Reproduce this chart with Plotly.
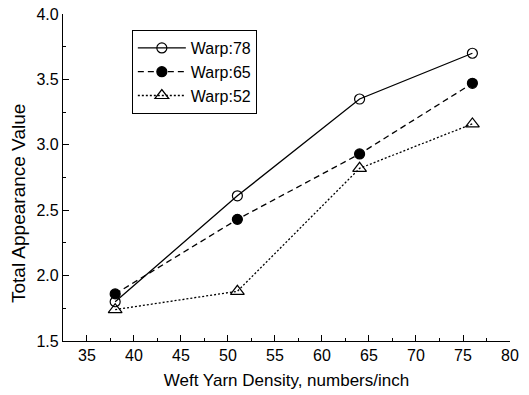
import plotly.graph_objects as go

weft_density = [38, 51, 64, 76]
warp78 = [1.80, 2.61, 3.35, 3.70]
warp65 = [1.86, 2.43, 2.93, 3.47]
warp52 = [1.74, 1.88, 2.82, 3.16]

series = [
    ("Warp:78", warp78, "solid", "circle-open", 10),
    ("Warp:65", warp65, "6px,4px", "circle", 10),
    ("Warp:52", warp52, "2px,2px", "triangle-up-open", 12),
]

fig = go.Figure()
for name, vals, dash, sym, size in series:
    fig.add_trace(go.Scatter(
        x=weft_density, y=vals, name=name, mode="lines+markers",
        line=dict(color="black", width=1.3, dash=dash),
        marker=dict(symbol=sym, size=size, color="black",
                    line=dict(color="black", width=1.2)),
    ))

font = "Liberation Sans, Arial, sans-serif"
fig.update_layout(
    width=529, height=395,
    margin=dict(l=63, r=19, t=14, b=54),
    paper_bgcolor="white", plot_bgcolor="white",
    font=dict(family=font, color="black", size=16),
    showlegend=True,
    legend=dict(x=0.154, y=0.951, xanchor="left", yanchor="top",
                bordercolor="black", borderwidth=1, bgcolor="white",
                font=dict(size=16), tracegroupgap=0, itemwidth=48),
)
fig.update_xaxes(
    range=[32.45, 80], dtick=5, tick0=35, automargin=False,
    showline=True, linecolor="black", linewidth=1.2,
    ticks="inside", ticklen=6, tickcolor="black",
    minor=dict(ticks="inside", ticklen=3, dtick=2.5, tick0=35, tickcolor="black"),
    showgrid=False, zeroline=False,
    tickfont=dict(size=16),
    title=dict(text="Weft Yarn Density, numbers/inch", font=dict(size=17), standoff=10),
)
fig.update_yaxes(
    range=[1.5, 4.0], dtick=0.5, tick0=1.5, tickformat=".1f", automargin=False,
    showline=True, linecolor="black", linewidth=1.2,
    ticks="inside", ticklen=6, tickcolor="black",
    minor=dict(ticks="inside", ticklen=3, dtick=0.25, tick0=1.5, tickcolor="black"),
    showgrid=False, zeroline=False,
    tickfont=dict(size=16),
)

# y-axis title sits a little below the axis midpoint
fig.add_annotation(
    text="Total Appearance Value", xref="paper", yref="paper",
    x=-0.1007, y=0.422, xanchor="center", yanchor="middle",
    textangle=-90, showarrow=False, font=dict(size=19),
)

fig.write_html("out.html")
